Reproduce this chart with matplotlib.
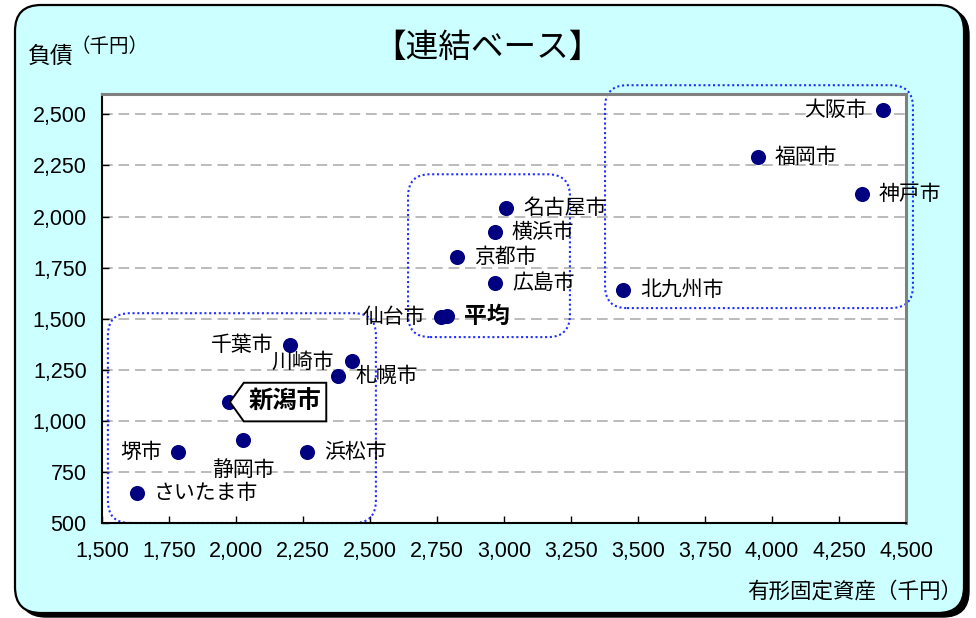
import matplotlib
matplotlib.use('Agg')
import matplotlib.pyplot as plt
from matplotlib.patches import FancyBboxPatch
from matplotlib.path import Path

# ---------------- data ----------------
cities = ['さいたま市', '堺市', '静岡市', '新潟市', '浜松市', '千葉市', '川崎市', '札幌市',
          '仙台市', '平均', '京都市', '広島市', '横浜市', '名古屋市', '北九州市', '福岡市',
          '神戸市', '大阪市']
fixed_assets = [1631, 1784, 2026, 1974, 2265, 2201, 2433, 2381,
                2765, 2787, 2825, 2966, 2966, 3007, 3444, 3948, 4336, 4414]
liabilities = [647, 847, 906, 1092, 847, 1371, 1293, 1219,
               1508, 1513, 1801, 1674, 1924, 2041, 1640, 2290, 2110, 2520]
label_side = ['right', 'left', 'below', 'tag', 'right', 'left', 'leftup', 'right',
              'left', 'right', 'right', 'right', 'right', 'right', 'right', 'right',
              'right', 'left']
x_ticks = [1500, 1750, 2000, 2250, 2500, 2750, 3000, 3250, 3500, 3750, 4000, 4250, 4500]
y_ticks = [500, 750, 1000, 1250, 1500, 1750, 2000, 2250, 2500]
# group outlines (x0, x1, y0, y1) in data units
group_boxes = [(1522, 2522, 500, 1527), (2642, 3246, 1410, 2207), (3377, 4526, 1552, 2643)]

title = '【連結ベース】'
ylabel_main = '負債'
ylabel_unit = '（千円）'
xlabel = '有形固定資産（千円）'

CJK = ['Noto Sans CJK JP', 'DejaVu Sans']
NUM = ['Liberation Sans', 'DejaVu Sans']
plt.rcParams['font.family'] = CJK

W, H = 976, 618
fig = plt.figure(figsize=(W / 100, H / 100), dpi=100, facecolor='white')

# ---------- rounded frame with shadow ----------
asp_fig = W / H
R = 26 / W
sx, sy = 15 / W, (H - 613) / H
fw, fh = (964 - 15) / W, (613 - 5) / H
shadow = FancyBboxPatch((sx + 5 / W, sy - 4 / H), fw, fh,
                        boxstyle=f'round,pad=0,rounding_size={R}', mutation_aspect=asp_fig,
                        transform=fig.transFigure, facecolor='black', edgecolor='black', lw=1,
                        zorder=-3)
frame = FancyBboxPatch((sx, sy), fw, fh,
                       boxstyle=f'round,pad=0,rounding_size={R}', mutation_aspect=asp_fig,
                       transform=fig.transFigure, facecolor='#CCFFFF', edgecolor='black', lw=1.6,
                       zorder=-2)
fig.add_artist(shadow)
fig.add_artist(frame)

# ---------- axes ----------
ax_l, ax_r, ax_t, ax_b = 102, 906, 94, 523
ax = fig.add_axes([ax_l / W, 1 - ax_b / H, (ax_r - ax_l) / W, (ax_b - ax_t) / H])
ax.set_zorder(1)
ax.set_facecolor('white')
ax.set_xlim(1500, 4500)
ax.set_ylim(500, 2600)
ax.set_xticks(x_ticks)
ax.set_yticks(y_ticks)
ax.set_xticklabels([f'{v:,}' for v in x_ticks], fontfamily=NUM, fontsize=15.5)
ax.set_yticklabels([f'{v:,}' for v in y_ticks], fontfamily=NUM, fontsize=15.5)
ax.tick_params(axis='x', direction='in', length=5, width=1, pad=13, colors='black')
ax.tick_params(axis='y', direction='in', length=5, width=1, pad=11, colors='black')
for s in ['top', 'right']:
    ax.spines[s].set_color('#808080')
    ax.spines[s].set_linewidth(2.2)
for s in ['bottom', 'left']:
    ax.spines[s].set_color('black')
    ax.spines[s].set_linewidth(1.5)
for yv in y_ticks[1:]:
    ax.axhline(yv, color='#A8A8A8', lw=1.1, ls=(0, (7, 3.8)), zorder=1)

# group outlines
xpp = 3000 / (ax_r - ax_l)
ypp = 2100 / (ax_b - ax_t)
asp = ypp / xpp
Rg = 22 * xpp
for (x0, x1, y0, y1) in group_boxes:
    p = FancyBboxPatch((x0, y0), x1 - x0, y1 - y0,
                       boxstyle=f'round,pad=0,rounding_size={Rg}', mutation_aspect=asp,
                       facecolor='none', edgecolor='#1F2FFF', lw=1.5, ls=(0, (1, 1.3)),
                       clip_on=False, zorder=2)
    ax.add_patch(p)

ax.scatter(fixed_assets, liabilities, s=118, color='#000080', zorder=4, linewidths=0)


def tag_box(x0, y0, width, height, mutation_size):
    padx = 0.2 * mutation_size
    pady = 0.3 * mutation_size
    xa = x0 - padx
    xb = x0 + width + padx
    ya = y0 - pady
    yb = y0 + height + pady
    tip = (yb - ya) * 0.36
    verts = [(xa, ya), (xb, ya), (xb, yb), (xa, yb), (xa - tip, (ya + yb) / 2), (xa, ya)]
    return Path(verts, closed=True)


LBL = 15
for name, xv, yv, side in zip(cities, fixed_assets, liabilities, label_side):
    if side == 'right':
        bold = (name == '平均')
        ax.annotate(name, (xv, yv), xytext=(17, 0), textcoords='offset pixels',
                    ha='left', va='center', fontsize=16.5 if bold else LBL,
                    fontweight='bold' if bold else 'normal', zorder=5)
    elif side == 'left':
        ax.annotate(name, (xv, yv), xytext=(-16, 0), textcoords='offset pixels',
                    ha='right', va='center', fontsize=LBL, zorder=5)
    elif side == 'leftup':
        ax.annotate(name, (xv, yv), xytext=(-18, -1), textcoords='offset pixels',
                    ha='right', va='center', fontsize=LBL, zorder=5)
    elif side == 'below':
        ax.annotate(name, (xv, yv), xytext=(0, -30), textcoords='offset pixels',
                    ha='center', va='center', fontsize=LBL, zorder=5)
    elif side == 'tag':
        ax.annotate(name, (xv, yv), xytext=(56, 0), textcoords='offset pixels',
                    ha='center', va='center', fontsize=17.5, fontweight='bold', zorder=6,
                    bbox=dict(boxstyle=tag_box, facecolor='white', edgecolor='black', lw=1.4))

# ---------- texts ----------
fig.text(487 / W, 1 - 48 / H, title, ha='center', va='center', fontsize=23.5)
fig.text(28 / W, 1 - 56 / H, ylabel_main, ha='left', va='center', fontsize=16.5)
fig.text(70 / W, 1 - 46 / H, ylabel_unit, ha='left', va='center', fontsize=14)
fig.text(962 / W, 1 - 592 / H, xlabel, ha='right', va='center', fontsize=15.5)

fig.savefig('out.png', dpi=100, facecolor='white')
